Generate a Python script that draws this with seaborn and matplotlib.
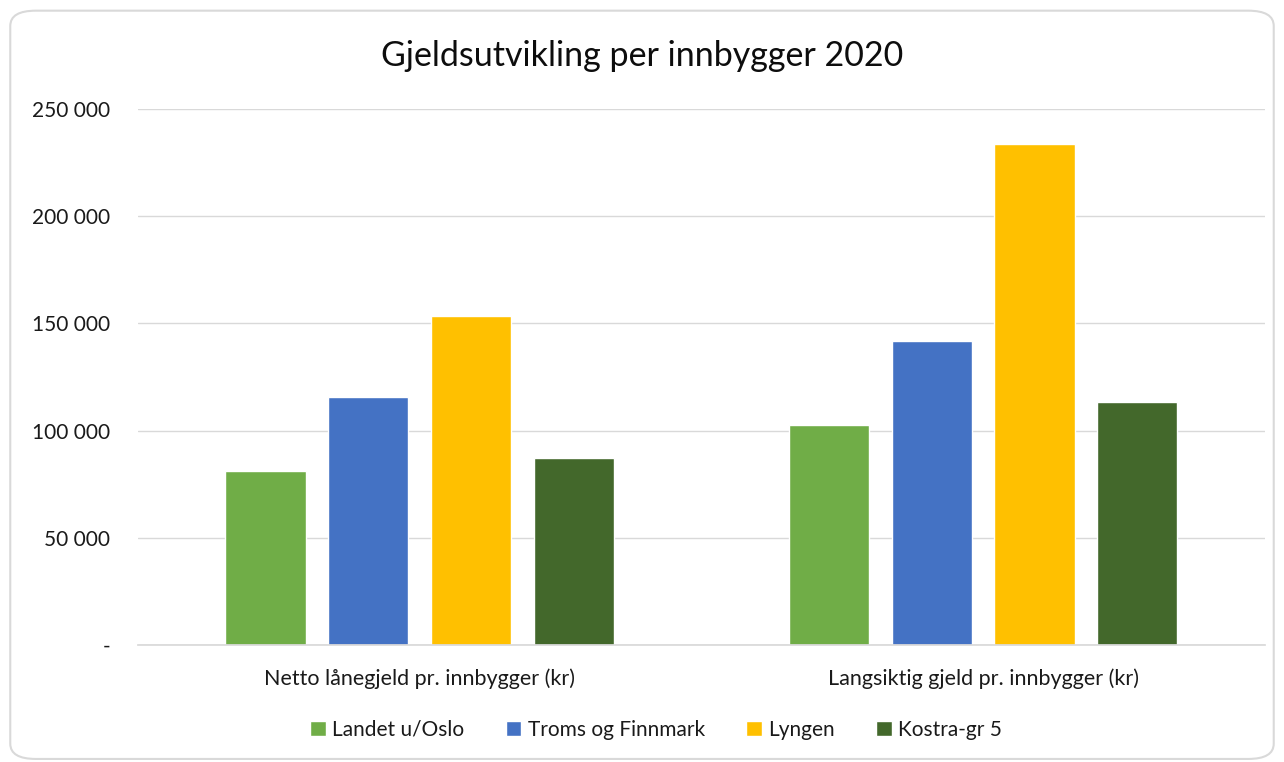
import pandas as pd
import matplotlib.pyplot as plt
import seaborn as sns
from matplotlib.patches import FancyBboxPatch
from matplotlib.ticker import FuncFormatter

# Data
categories = ['Netto lånegjeld pr. innbygger (kr)', 'Langsiktig gjeld pr. innbygger (kr)']
series = ['Landet u/Oslo', 'Troms og Finnmark', 'Lyngen', 'Kostra-gr 5']
landet = [81000, 102500]
troms = [115800, 141700]
lyngen = [153300, 233600]
kostra = [87100, 113200]
colors = ['#70AD47', '#4472C4', '#FFC000', '#43682B']

rows = []
for name, vals in zip(series, [landet, troms, lyngen, kostra]):
    for cat, v in zip(categories, vals):
        rows.append({'kategori': cat, 'serie': name, 'verdi': v})
df = pd.DataFrame(rows)

sns.set_theme(style='white')
plt.rcParams['font.family'] = ['Lato', 'DejaVu Sans']

fig = plt.figure(figsize=(12.84, 7.62), dpi=100)
ax = fig.add_axes([0.1075, 0.1535, 0.8775, 0.7035])

sns.barplot(data=df, x='kategori', y='verdi', hue='serie', order=categories,
            hue_order=series, palette=colors, width=0.73, gap=0.22,
            saturation=1, ax=ax, legend=True)

ax.set_ylim(0, 250000)
ax.set_xlim(-0.5, 1.5)
ax.set_yticks(range(0, 250001, 50000))
ax.yaxis.set_major_formatter(FuncFormatter(
    lambda v, p: '-' if v == 0 else f'{v:,.0f}'.replace(',', ' ')))
ax.grid(axis='y', color='#d9d9d9', linewidth=1)
ax.set_axisbelow(True)
for s in ['top', 'right', 'left']:
    ax.spines[s].set_visible(False)
ax.spines['bottom'].set_color('#d9d9d9')
ax.tick_params(axis='y', length=0, pad=20, labelsize=15, labelcolor='#1a1a1a')
ax.tick_params(axis='x', length=0, pad=17, labelsize=15.5, labelcolor='#1a1a1a')
ax.set_xlabel('')
ax.set_ylabel('')

fig.suptitle('Gjeldsutvikling per innbygger 2020', y=0.948, fontsize=24.5, color='#0d0d0d')

ax.legend(loc='center', bbox_to_anchor=(0.511, 0.042), bbox_transform=fig.transFigure,
          ncol=4, frameon=False, fontsize=15, handlelength=0.75, handleheight=0.75,
          handletextpad=0.3, columnspacing=2.0, labelcolor='#1a1a1a')

border = FancyBboxPatch((0.008, 0.004), 0.984, 0.982, transform=fig.transFigure,
                        boxstyle='round,pad=0,rounding_size=0.02', fill=False,
                        edgecolor='#d9d9d9', linewidth=1.5)
fig.patches.append(border)

fig.savefig('out.png', dpi=100)
